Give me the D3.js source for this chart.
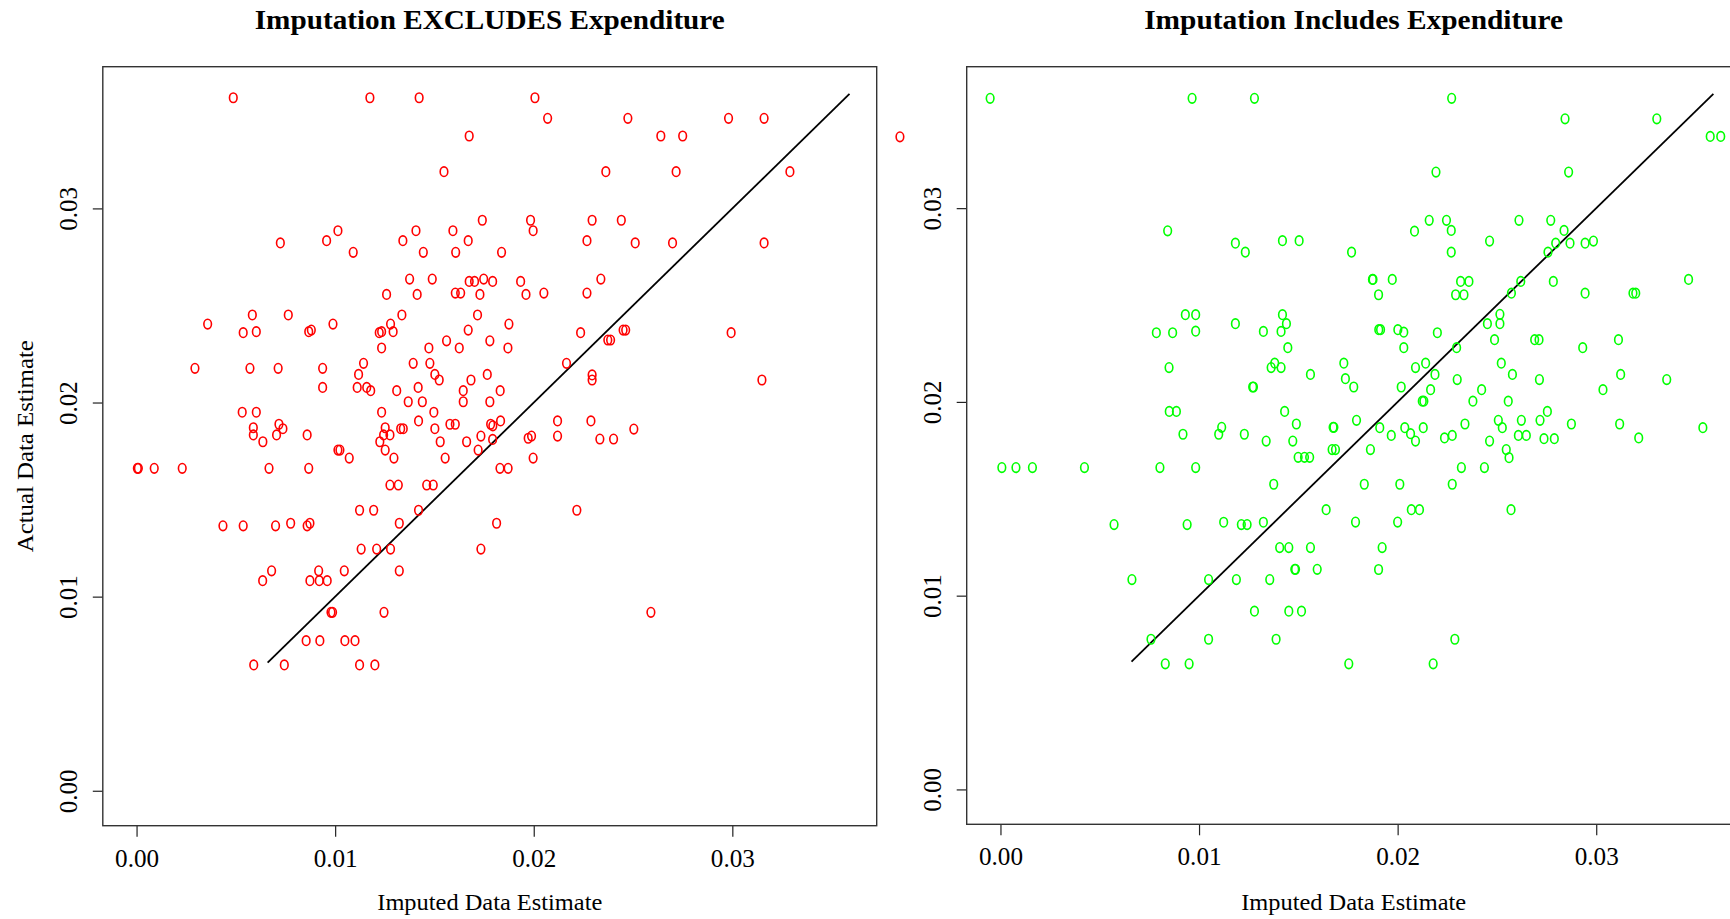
<!DOCTYPE html>
<html>
<head>
<meta charset="utf-8">
<script src="https://cdn.jsdelivr.net/npm/d3@7"></script>
<style>
  body { margin: 0; background: #fff; }
  svg { display: block; }
  text { font-family: "Liberation Serif", "DejaVu Serif", serif; fill: #000; }
  .tick line { stroke: #222; stroke-width: 1.2; }
</style>
</head>
<body>
<svg id="chart" width="1730" height="919"></svg>
<script>
// values: [imputed, actual]
var excludesData = [
  [0.00487,0.03570],[0.01175,0.03570],[0.01423,0.03570],[0.01675,0.03373],[0.01548,0.03189],[0.01741,0.02939],
  [0.00724,0.02822],[0.00957,0.02834],[0.01014,0.02885],[0.01091,0.02774],[0.01341,0.02834],[0.01407,0.02885],
  [0.01444,0.02774],[0.01593,0.02885],[0.01607,0.02774],[0.01670,0.02834],[0.01375,0.02636],[0.01489,0.02636],
  [0.01605,0.02564],[0.01632,0.02564],[0.01675,0.02624],[0.01702,0.02624],[0.01748,0.02636],[0.01259,0.02557],
  [0.01413,0.02557],[0.01729,0.02557],[0.00358,0.02404],[0.00537,0.02360],[0.00603,0.02365],[0.00583,0.02451],
  [0.00764,0.02451],[0.00867,0.02365],[0.00880,0.02373],[0.00989,0.02404],[0.01222,0.02360],[0.01234,0.02365],
  [0.01292,0.02365],[0.01279,0.02404],[0.01336,0.02451],[0.01717,0.02451],[0.01670,0.02373],[0.01779,0.02318],
  [0.01234,0.02281],[0.01472,0.02281],[0.01561,0.02318],[0.01625,0.02281],[0.00294,0.02176],[0.00571,0.02176],
  [0.00713,0.02176],[0.00937,0.02176],[0.01143,0.02202],[0.01118,0.02145],[0.01393,0.02202],[0.01477,0.02202],
  [0.01502,0.02145],[0.01524,0.02116],[0.01684,0.02116],[0.01766,0.02145],
  [0.02006,0.03570],[0.02070,0.03464],[0.02474,0.03464],[0.02981,0.03464],[0.03160,0.03464],[0.02640,0.03373],
  [0.02750,0.03373],[0.02363,0.03189],[0.02717,0.03189],[0.03290,0.03189],[0.01984,0.02939],[0.01997,0.02885],
  [0.02294,0.02939],[0.02441,0.02939],[0.02268,0.02834],[0.02511,0.02822],[0.02699,0.02822],[0.03160,0.02822],
  [0.01838,0.02774],[0.01793,0.02624],[0.01934,0.02624],[0.01961,0.02557],[0.02051,0.02564],[0.02268,0.02564],
  [0.02338,0.02636],[0.01875,0.02404],[0.01870,0.02281],[0.02236,0.02360],[0.02373,0.02322],[0.02387,0.02322],
  [0.02450,0.02373],[0.02463,0.02373],[0.02994,0.02360],[0.02165,0.02202],[0.02294,0.02142],[0.02294,0.02116],
  [0.03149,0.02116],
  [0.00937,0.02078],[0.01111,0.02078],[0.01159,0.02078],[0.01179,0.02061],[0.01310,0.02061],[0.01418,0.02078],
  [0.01645,0.02061],[0.01368,0.02004],[0.01439,0.02004],[0.01645,0.02004],[0.01779,0.02004],[0.00532,0.01950],
  [0.00603,0.01950],[0.01234,0.01950],[0.01497,0.01950],[0.00588,0.01870],[0.00588,0.01833],[0.00717,0.01888],
  [0.00737,0.01865],[0.00705,0.01833],[0.00636,0.01798],[0.00859,0.01833],[0.01252,0.01870],[0.01244,0.01833],
  [0.01276,0.01833],[0.01225,0.01798],[0.01330,0.01865],[0.01343,0.01865],[0.01420,0.01905],[0.01502,0.01865],
  [0.01578,0.01888],[0.01605,0.01888],[0.01529,0.01798],[0.01662,0.01798],[0.01734,0.01827],[0.01014,0.01755],
  [0.01024,0.01755],[0.01071,0.01714],[0.01252,0.01755],[0.01296,0.01714],[0.01554,0.01714],[0.01720,0.01755],
  [0.00004,0.01661],[0.00009,0.01661],[0.00089,0.01661],[0.00230,0.01661],[0.00667,0.01661],[0.00867,0.01661],
  [0.01276,0.01575],[0.01318,0.01575],[0.01461,0.01575],[0.01494,0.01575],[0.01123,0.01445],[0.01194,0.01445],
  [0.01420,0.01445],[0.00435,0.01365],[0.00537,0.01365],[0.00700,0.01365],[0.00776,0.01378],[0.00859,0.01365],
  [0.00873,0.01378],[0.01323,0.01378],[0.01131,0.01245],[0.01209,0.01245],[0.01279,0.01245],[0.01734,0.01245],
  [0.00680,0.01133],[0.00635,0.01082],[0.00917,0.01133],[0.00873,0.01082],[0.00920,0.01082],[0.00960,0.01082],
  [0.01046,0.01133],[0.01323,0.01133],[0.00979,0.00919],[0.00987,0.00919],[0.01246,0.00919],[0.00854,0.00773],
  [0.00923,0.00773],[0.01049,0.00773],[0.01100,0.00773],[0.00590,0.00648],[0.00744,0.00648],[0.01123,0.00648],
  [0.01200,0.00648],
  [0.01831,0.02061],[0.01833,0.01905],[0.01783,0.01888],[0.01794,0.01880],[0.01793,0.01810],[0.02120,0.01905],
  [0.02288,0.01905],[0.02504,0.01863],[0.01972,0.01816],[0.01989,0.01827],[0.02120,0.01827],[0.02333,0.01812],
  [0.02402,0.01812],[0.01997,0.01714],[0.01830,0.01661],[0.01871,0.01661],[0.02217,0.01445],[0.01813,0.01378],
  [0.02590,0.00919],[0.03844,0.03369]
];

var includesData = [
  [-0.00052,0.03567],[0.00965,0.03567],[0.01279,0.03567],[0.00842,0.02883],[0.01183,0.02819],[0.01233,0.02773],
  [0.01420,0.02832],[0.01504,0.02832],[0.00931,0.02450],[0.00983,0.02450],[0.00785,0.02357],[0.00867,0.02357],
  [0.00983,0.02365],[0.01183,0.02404],[0.01420,0.02450],[0.01440,0.02404],[0.01324,0.02364],[0.01413,0.02364],
  [0.01447,0.02280],[0.00849,0.02177],[0.01381,0.02200],[0.01363,0.02177],[0.01413,0.02177],[0.01561,0.02142],
  [0.01729,0.02200],
  [0.02272,0.03567],[0.02843,0.03461],[0.03305,0.03461],[0.03574,0.03370],[0.03627,0.03370],[0.02193,0.03186],
  [0.02861,0.03186],[0.02159,0.02937],[0.02246,0.02937],[0.02270,0.02885],[0.02085,0.02881],[0.02611,0.02937],
  [0.02771,0.02937],[0.02838,0.02885],[0.02463,0.02830],[0.02796,0.02819],[0.02868,0.02819],[0.02944,0.02819],
  [0.02986,0.02830],[0.02757,0.02773],[0.01768,0.02773],[0.02270,0.02773],[0.01873,0.02632],[0.01876,0.02632],
  [0.01973,0.02632],[0.01904,0.02553],[0.02317,0.02622],[0.02359,0.02622],[0.02292,0.02553],[0.02334,0.02553],
  [0.02620,0.02622],[0.02573,0.02561],[0.02784,0.02622],[0.02944,0.02561],[0.03185,0.02561],[0.03199,0.02561],
  [0.03465,0.02632],[0.01905,0.02373],[0.01914,0.02373],[0.02001,0.02373],[0.02031,0.02360],[0.02200,0.02357],
  [0.02031,0.02280],[0.02297,0.02280],[0.02452,0.02404],[0.02515,0.02452],[0.02515,0.02404],[0.02488,0.02321],
  [0.02690,0.02321],[0.02712,0.02321],[0.02932,0.02280],[0.03112,0.02321],[0.02090,0.02177],[0.02141,0.02200],
  [0.02188,0.02142],[0.02300,0.02115],[0.02522,0.02200],[0.02578,0.02142],[0.02714,0.02115],[0.03123,0.02142],
  [0.03355,0.02115],[0.01737,0.02120],
  [0.01270,0.02077],[0.01274,0.02077],[0.00850,0.01951],[0.00886,0.01951],[0.01431,0.01951],[0.01490,0.01886],
  [0.01114,0.01869],[0.01099,0.01833],[0.00919,0.01833],[0.01228,0.01833],[0.01338,0.01798],[0.01472,0.01798],
  [0.01675,0.01869],[0.01679,0.01869],[0.01670,0.01754],[0.01687,0.01754],[0.01499,0.01714],[0.01531,0.01714],
  [0.01557,0.01714],[0.00007,0.01661],[0.00078,0.01661],[0.00161,0.01661],[0.00423,0.01661],[0.00803,0.01661],
  [0.00983,0.01661],[0.01376,0.01575],[0.01640,0.01444],[0.00572,0.01367],[0.00940,0.01367],[0.01124,0.01379],
  [0.01213,0.01367],[0.01242,0.01367],[0.01324,0.01379],[0.01406,0.01248],[0.01452,0.01248],[0.01561,0.01248],
  [0.01482,0.01136],[0.01486,0.01136],[0.01595,0.01136],[0.00662,0.01083],[0.01048,0.01083],[0.01188,0.01083],
  [0.01356,0.01083],[0.01279,0.00920],[0.01452,0.00920],[0.01516,0.00920],[0.00758,0.00775],[0.01048,0.00775],
  [0.01388,0.00775],[0.00830,0.00648],[0.00950,0.00648],
  [0.01779,0.02077],[0.02018,0.02077],[0.02166,0.02063],[0.02124,0.02004],[0.02132,0.02004],[0.02423,0.02063],
  [0.02379,0.02004],[0.02557,0.02004],[0.03034,0.02063],[0.01793,0.01905],[0.01910,0.01867],[0.01968,0.01827],
  [0.02036,0.01867],[0.02065,0.01836],[0.02090,0.01798],[0.02129,0.01867],[0.01863,0.01754],[0.02236,0.01814],
  [0.02275,0.01827],[0.02339,0.01886],[0.02463,0.01798],[0.02507,0.01905],[0.02527,0.01867],[0.02547,0.01754],
  [0.02561,0.01712],[0.02623,0.01905],[0.02608,0.01827],[0.02648,0.01827],[0.02717,0.01905],[0.02754,0.01951],
  [0.02737,0.01810],[0.02789,0.01810],[0.02875,0.01886],[0.03118,0.01886],[0.03214,0.01814],[0.03537,0.01867],
  [0.02321,0.01661],[0.02437,0.01661],[0.01832,0.01575],[0.02011,0.01575],[0.02275,0.01575],[0.02069,0.01444],
  [0.02110,0.01444],[0.02571,0.01444],[0.01788,0.01380],[0.02000,0.01380],[0.01922,0.01248],[0.01904,0.01135],
  [0.02288,0.00775],[0.01754,0.00648],[0.02179,0.00648]
];

// 45 degree reference line
var refLine = [[0.0066, 0.0066], [0.0359, 0.0359]];

var xTicks = [0, 0.01, 0.02, 0.03];
var yTicks = [0, 0.01, 0.02, 0.03];

var panels = [
  {title: "Imputation EXCLUDES Expenditure", titleWidth: 470, data: excludesData, color: "#ff0000",
   left: 102.8, top: 66.7, right: 876.7, bottom: 825.7, yLabel: "Actual Data Estimate"},
  {title: "Imputation Includes Expenditure", titleWidth: 419, data: includesData, color: "#00ff00",
   left: 966.7, top: 66.7, right: 1740.6, bottom: 824.3, yLabel: null}
];

var svg = d3.select("#chart");

panels.forEach(function(p){
  var x = d3.scaleLinear().domain([-0.0017, 0.03727]).range([p.left, p.right]);
  var y = d3.scaleLinear().domain([-0.0018, 0.0373]).range([p.bottom, p.top]);
  var cx = (p.left + p.right) / 2;
  var g = svg.append("g");

  // x axis
  var xg = g.append("g")
    .attr("transform", "translate(0," + p.bottom + ")")
    .call(d3.axisBottom(x).tickValues(xTicks).tickFormat(d3.format(".2f")).tickSize(11).tickSizeOuter(0));
  xg.select(".domain").remove();
  xg.selectAll("text")
    .attr("y", 41).attr("dy", 0)
    .attr("textLength", 44).attr("lengthAdjust", "spacingAndGlyphs")
    .style("font-size", "26px");

  // y axis, labels rotated like base R
  var yg = g.append("g")
    .attr("transform", "translate(" + p.left + ",0)")
    .call(d3.axisLeft(y).tickValues(yTicks).tickFormat(d3.format(".2f")).tickSize(10).tickSizeOuter(0));
  yg.select(".domain").remove();
  yg.selectAll("text")
    .attr("transform", "rotate(-90)")
    .attr("x", 0).attr("y", -26).attr("dy", 0)
    .attr("text-anchor", "middle")
    .style("font-size", "25px");

  // frame
  g.append("rect")
    .attr("x", p.left).attr("y", p.top)
    .attr("width", p.right - p.left).attr("height", p.bottom - p.top)
    .attr("fill", "none").attr("stroke", "#333").attr("stroke-width", 1.4);

  // reference line
  g.append("path")
    .datum(refLine)
    .attr("d", d3.line().x(function(d){ return x(d[0]); }).y(function(d){ return y(d[1]); }))
    .attr("stroke", "#000").attr("stroke-width", 1.8).attr("fill", "none");

  // points
  g.append("g").selectAll("ellipse")
    .data(p.data).enter()
    .append("ellipse")
      .attr("cx", function(d){ return x(d[0]); })
      .attr("cy", function(d){ return y(d[1]); })
      .attr("rx", 3.8).attr("ry", 4.8)
      .attr("fill", "none")
      .attr("stroke", p.color)
      .attr("stroke-width", 1.6);

  // titles and labels
  g.append("text")
    .attr("x", cx).attr("y", 29)
    .attr("text-anchor", "middle")
    .attr("textLength", p.titleWidth).attr("lengthAdjust", "spacingAndGlyphs")
    .style("font-size", "27px").style("font-weight", "bold")
    .text(p.title);

  g.append("text")
    .attr("x", cx).attr("y", 910)
    .attr("text-anchor", "middle")
    .attr("textLength", 225).attr("lengthAdjust", "spacingAndGlyphs")
    .style("font-size", "24px")
    .text("Imputed Data Estimate");

  if (p.yLabel) {
    g.append("text")
      .attr("transform", "translate(33," + ((p.top + p.bottom) / 2) + ") rotate(-90)")
      .attr("text-anchor", "middle")
      .attr("textLength", 212).attr("lengthAdjust", "spacingAndGlyphs")
      .style("font-size", "24px")
      .text(p.yLabel);
  }
});
</script>
</body>
</html>
